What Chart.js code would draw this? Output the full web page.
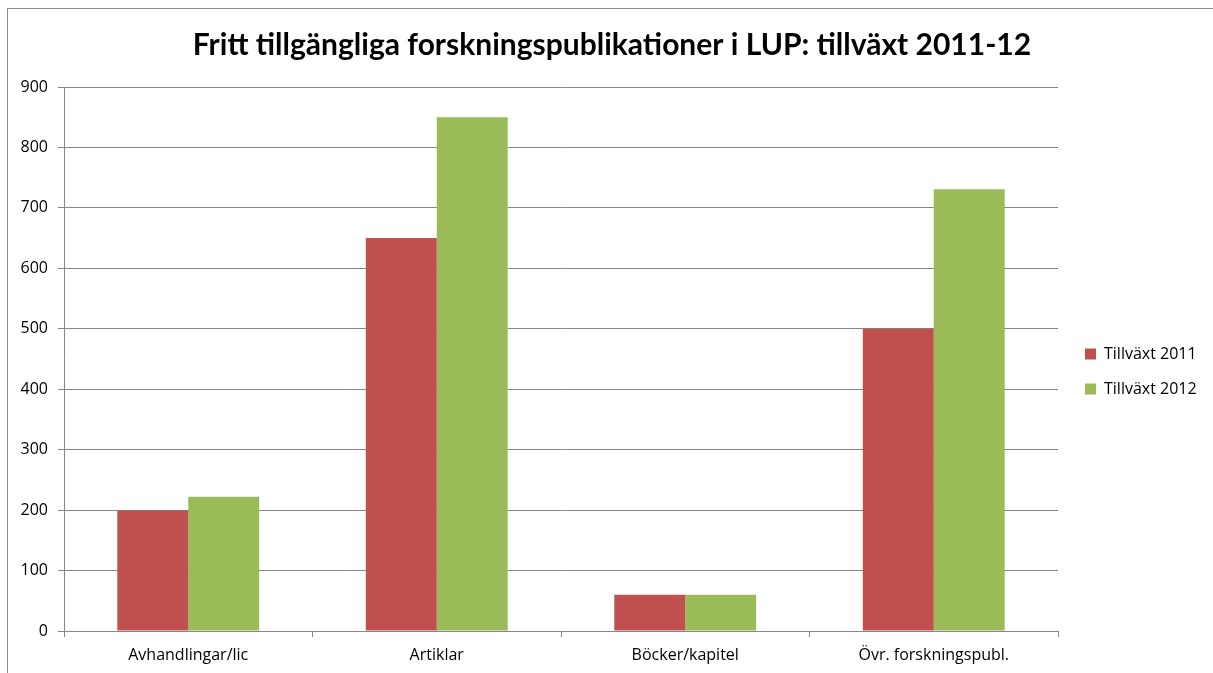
<!DOCTYPE html>
<html>
<head>
<meta charset="utf-8">
<script src="https://cdn.jsdelivr.net/npm/chart.js@4"></script>
<style>
    body { margin: 0; background: #fff; }
    #wrap { position: relative; width: 1213px; height: 673px; overflow: hidden; }
    #frame { position: absolute; left: 7px; top: 8px; width: 1230px; height: 700px; border: 1px solid #8c8c8c; box-sizing: border-box; }
    canvas { position: absolute; left: 0; top: 0; }
</style>
</head>
<body>
<div id="wrap">
    <div id="frame"></div>
    <canvas id="chart" width="1213" height="673"></canvas>
</div>
<script>
// --- Data ---
const categories = ['Avhandlingar/lic', 'Artiklar', 'Böcker/kapitel', 'Övr. forskningspubl.'];
const growth2011 = [199, 650, 60, 500];
const growth2012 = [222, 850, 60, 731];
const seriesNames = ['Tillväxt 2011', 'Tillväxt 2012'];
const yTicks = [0, 100, 200, 300, 400, 500, 600, 700, 800, 900];

const TITLE_FONT = 'Lato, "Open Sans", sans-serif';
const FONT = '"Open Sans", Lato, sans-serif';

// fixed legend width, then nudge the legend block to where it sits in the original
const legendPlace = {
    id: 'legendPlace',
    afterInit(chart) {
        const lg = chart.legend;
        if (!lg) return;
        const fit = lg.fit.bind(lg);
        lg.fit = function () {
            fit();
            this.width = 155;
        };
    },
    afterLayout(chart) {
        const lg = chart.legend;
        if (!lg) return;
        lg.left += 8; lg.right += 8;
        lg.top += 26; lg.bottom += 26;
    }
};

new Chart(document.getElementById('chart'), {
    type: 'bar',
    data: {
        labels: categories,
        datasets: [
            { label: seriesNames[0], data: growth2011, backgroundColor: '#C0504D' },
            { label: seriesNames[1], data: growth2012, backgroundColor: '#9BBB59' }
        ]
    },
    options: {
        responsive: false,
        animation: false,
        layout: { padding: { left: 11, right: 0, top: 22, bottom: 4 } },
        datasets: { bar: { barPercentage: 1, categoryPercentage: 0.571 } },
        scales: {
            y: {
                min: 0, max: 900,
                afterBuildTicks: s => { s.ticks = yTicks.map(v => ({ value: v })); },
                afterFit: s => { s.width = 53; },
                border: { color: '#868686' },
                grid: { color: '#868686', tickLength: 6 },
                ticks: { color: '#000', padding: 10, font: { family: FONT, size: 16 } }
            },
            x: {
                afterFit: s => { s.height = 38; },
                border: { color: '#868686' },
                grid: { offset: true, drawOnChartArea: false, color: '#868686', tickLength: 6 },
                ticks: { color: '#000', padding: 9, font: { family: FONT, size: 16 } }
            }
        },
        plugins: {
            title: {
                display: true,
                text: 'Fritt tillgängliga forskningspublikationer i LUP: tillväxt 2011-12',
                color: '#000',
                font: { family: TITLE_FONT, size: 30, weight: 'bold' },
                padding: { top: 5, bottom: 24 }
            },
            legend: {
                position: 'right',
                labels: {
                    boxWidth: 11, boxHeight: 11, padding: 19,
                    color: '#000',
                    font: { family: FONT, size: 16 }
                }
            },
            tooltip: { enabled: false }
        }
    },
    plugins: [legendPlace]
});
</script>
</body>
</html>
